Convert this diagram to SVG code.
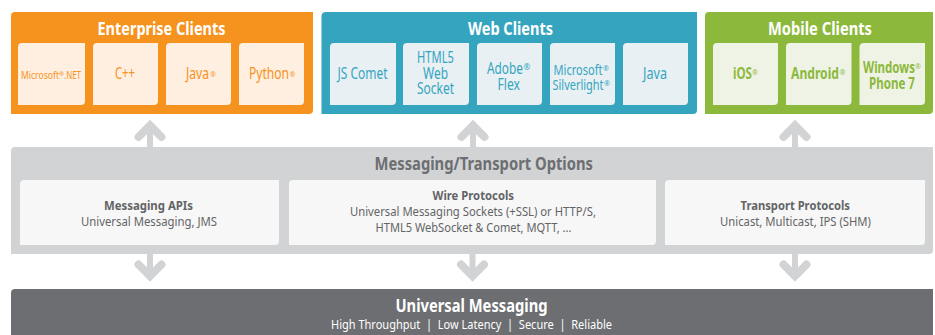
<svg xmlns="http://www.w3.org/2000/svg" width="935" height="335" viewBox="0 0 935 335">
<style>
text{font-family:"Noto Sans","Lato",sans-serif;text-anchor:start}
.t{font-size:18px;font-weight:700;fill:#fff}
.o{fill:#f6921e}.b{fill:#35a5bf}.g{fill:#8cb93b}
.lo{fill:#feefe0}.lb{fill:#e8f0f4}.lg{fill:#eff3e6}
.to{fill:#f6921e;font-size:16px}.tb{fill:#35a5bf;font-size:16px}.tg{fill:#8cb93b;font-size:16px;font-weight:700}
.h{font-weight:700}.gr{font-size:13px;fill:#636466}
.r{font-size:7px;font-weight:400}
.shaft{fill:none;stroke:#d1d3d4;stroke-width:6}
.head{fill:none;stroke:#d1d3d4;stroke-width:8;stroke-linecap:round;stroke-linejoin:miter}
</style>
<g id="enterprise">
<path class="o" d="M15 12H313V110Q313 114 309 114H11V16Q11 12 15 12Z"/>
<text class="t" x="97.500" y="35" textLength="128" lengthAdjust="spacingAndGlyphs">Enterprise Clients</text>
<path class="lo" d="M22 43H85V101Q85 105 81 105H18V47Q18 43 22 43Z"/>
<path class="lo" d="M97 43H158V101Q158 105 154 105H93V47Q93 43 97 43Z"/>
<path class="lo" d="M170 43H231V101Q231 105 227 105H166V47Q166 43 170 43Z"/>
<path class="lo" d="M243 43H304V101Q304 105 300 105H239V47Q239 43 243 43Z"/>
<text class="to" style="font-size:11px"><tspan x="21" y="79" textLength="38" lengthAdjust="spacingAndGlyphs">Microsoft</tspan><tspan class="r" x="59" y="76" style="font-size:6px">®</tspan><tspan x="64" y="79" textLength="17" lengthAdjust="spacingAndGlyphs">.NET</tspan></text>
<text class="to" x="115" y="79" textLength="20" lengthAdjust="spacingAndGlyphs">C++</text>
<text class="to"><tspan x="186" y="79" textLength="23" lengthAdjust="spacingAndGlyphs">Java</tspan><tspan class="r" x="210" y="77">®</tspan></text>
<text class="to"><tspan x="249" y="79" textLength="40" lengthAdjust="spacingAndGlyphs">Python</tspan><tspan class="r" x="289.500" y="77">®</tspan></text>
</g>
<g id="web">
<path class="b" d="M326 12H697V110Q697 114 693 114H321.500V16Q321.500 12 326 12Z"/>
<text class="t" x="468" y="35" textLength="85" lengthAdjust="spacingAndGlyphs">Web Clients</text>
<path class="lb" d="M334 43H396V101Q396 105 392 105H330V47Q330 43 334 43Z"/>
<path class="lb" d="M407 43H469V101Q469 105 465 105H403V47Q403 43 407 43Z"/>
<path class="lb" d="M481 43H542V101Q542 105 538 105H477V47Q477 43 481 43Z"/>
<path class="lb" d="M554 43H615V101Q615 105 611 105H550V47Q550 43 554 43Z"/>
<path class="lb" d="M627 43H688V101Q688 105 684 105H623V47Q623 43 627 43Z"/>
<text class="tb" x="337.500" y="79" textLength="50" lengthAdjust="spacingAndGlyphs">JS Comet</text>
<text class="tb"><tspan x="417" y="63" textLength="37" lengthAdjust="spacingAndGlyphs">HTML5</tspan><tspan x="423" y="79" textLength="25" lengthAdjust="spacingAndGlyphs">Web</tspan><tspan x="417" y="94" textLength="37" lengthAdjust="spacingAndGlyphs">Socket</tspan></text>
<text class="tb"><tspan x="487" y="74" textLength="36" lengthAdjust="spacingAndGlyphs">Adobe</tspan><tspan class="r" x="523.500" y="70" style="font-size:8px">®</tspan><tspan x="497.500" y="90" textLength="22.500" lengthAdjust="spacingAndGlyphs">Flex</tspan></text>
<text class="tb" style="font-size:14px"><tspan x="553.500" y="75" textLength="49" lengthAdjust="spacingAndGlyphs">Microsoft</tspan><tspan class="r" x="603" y="71">®</tspan><tspan x="552.500" y="90" textLength="51" lengthAdjust="spacingAndGlyphs">Silverlight</tspan><tspan class="r" x="604" y="86">®</tspan></text>
<text class="tb" x="643" y="79" textLength="24" lengthAdjust="spacingAndGlyphs">Java</text>
</g>
<g id="mobile">
<path class="g" d="M709 12H933V110Q933 114 929 114H705V16Q705 12 709 12Z"/>
<text class="t" x="768" y="35" textLength="104" lengthAdjust="spacingAndGlyphs">Mobile Clients</text>
<path class="lg" d="M717 43H778V101Q778 105 774 105H713V47Q713 43 717 43Z"/>
<path class="lg" d="M790 43H851.500V101Q851.500 105 847.500 105H786V47Q786 43 790 43Z"/>
<path class="lg" d="M864 43H925V101Q925 105 921 105H859.500V47Q859.500 43 864 43Z"/>
<text class="tg"><tspan x="733" y="79" textLength="19" lengthAdjust="spacingAndGlyphs">iOS</tspan><tspan class="r" x="752" y="75">®</tspan></text>
<text class="tg"><tspan x="791" y="79" textLength="48" lengthAdjust="spacingAndGlyphs">Android</tspan><tspan class="r" x="839.500" y="75">®</tspan></text>
<text class="tg"><tspan x="863" y="73" textLength="52" lengthAdjust="spacingAndGlyphs">Windows</tspan><tspan class="r" x="915" y="69">®</tspan><tspan x="869" y="89" textLength="46" lengthAdjust="spacingAndGlyphs">Phone 7</tspan></text>
</g>
<g id="connectors">
<path class="shaft" d="M150 147V128M473 147V128M795 147V128M150 254V273M472.500 254V273M795 254V273"/>
<path class="head" d="M138.500 137L150 125.500L161.500 137M461.500 137L473 125.500L484.500 137M783.500 137L795 125.500L806.500 137"/>
<path class="head" d="M138.500 264.500L150 276L161.500 264.500M461 264.500L472.500 276L484 264.500M783.500 264.500L795 276L806.500 264.500"/>
</g>
<g id="transport">
<path fill="#d1d3d4" d="M15 147H933V250Q933 254 929 254H11V151Q11 147 15 147Z"/>
<text x="374.500" y="170" style="font-size:17px;font-weight:700;fill:#6d6e71" textLength="218.500" lengthAdjust="spacingAndGlyphs">Messaging/Transport Options</text>
</g>
<g id="messaging-apis">
<path fill="#f7f7f7" d="M24 180H279V241Q279 245 275 245H20V184Q20 180 24 180Z"/>
<text class="gr"><tspan class="h" x="104" y="210" textLength="89" lengthAdjust="spacingAndGlyphs">Messaging APIs</tspan><tspan x="81" y="226" textLength="136" lengthAdjust="spacingAndGlyphs">Universal Messaging, JMS</tspan></text>
</g>
<g id="wire-protocols">
<path fill="#f7f7f7" d="M293 180H656V241Q656 245 652 245H289V184Q289 180 293 180Z"/>
<text class="gr"><tspan class="h" x="432.500" y="200" textLength="81.500" lengthAdjust="spacingAndGlyphs">Wire Protocols</tspan><tspan x="350" y="216" textLength="246" lengthAdjust="spacingAndGlyphs">Universal Messaging Sockets (+SSL) or HTTP/S,</tspan><tspan x="375.500" y="232" textLength="196" lengthAdjust="spacingAndGlyphs">HTML5 WebSocket &amp; Comet, MQTT, ...</tspan></text>
</g>
<g id="transport-protocols">
<path fill="#f7f7f7" d="M669 180H925V241Q925 245 921 245H665V184Q665 180 669 180Z"/>
<text class="gr"><tspan class="h" x="740.500" y="210" textLength="109.500" lengthAdjust="spacingAndGlyphs">Transport Protocols</tspan><tspan x="720" y="226" textLength="151" lengthAdjust="spacingAndGlyphs">Unicast, Multicast, IPS (SHM)</tspan></text>
</g>
<g id="universal-messaging">
<path fill="#6d6e71" d="M15 289H933V335H11V293Q11 289 15 289Z"/>
<text fill="#fff"><tspan x="395.500" y="312" style="font-size:18px;font-weight:700" textLength="152" lengthAdjust="spacingAndGlyphs">Universal Messaging</tspan><tspan x="331" y="329" style="font-size:13px" textLength="281" lengthAdjust="spacingAndGlyphs">High Throughput&#160;&#160;|&#160;&#160;Low Latency&#160;&#160;|&#160;&#160;Secure&#160;&#160;|&#160;&#160;Reliable</tspan></text>
</g>
</svg>
